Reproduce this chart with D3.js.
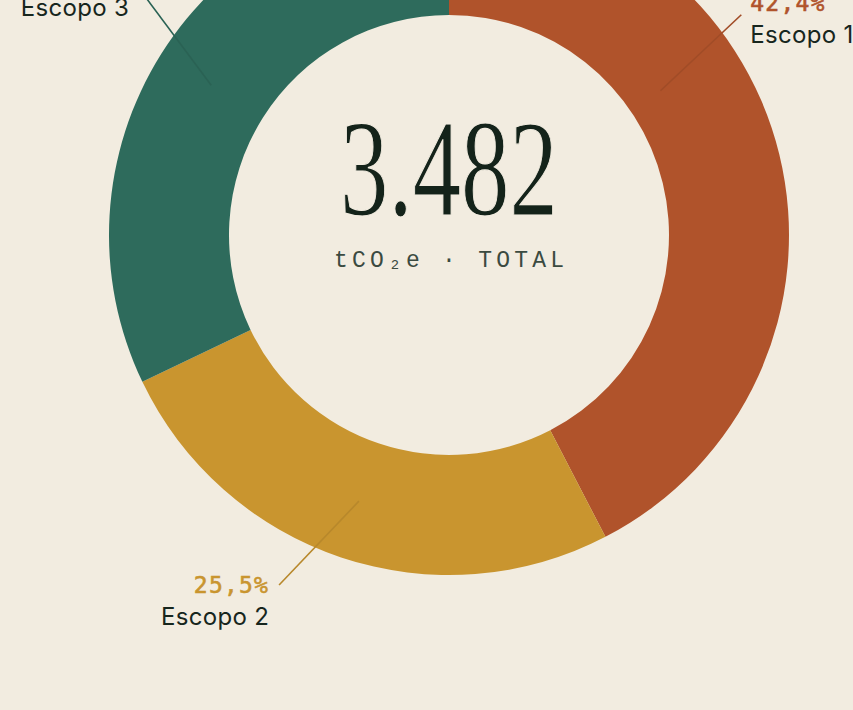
<!DOCTYPE html>
<html>
<head>
<meta charset="utf-8">
<script src="https://cdn.jsdelivr.net/npm/d3@7"></script>
<style>
  html, body { margin: 0; padding: 0; background: #f2ece0; }
  svg { display: block; }
</style>
</head>
<body>
<svg id="chart" width="853" height="710"></svg>
<script>
// dados (tCO2e por escopo)
var scopes = ["Escopo 1", "Escopo 2", "Escopo 3"];
var emissions = [1476, 888, 1118];
var colors = ["#b0532b", "#c9952f", "#2e6b5c"];
var totalLabel = "tCO₂e · TOTAL";

// onde cada linha-guia sai e termina (angulo em graus, raio em px)
var leaders = [
    { a0: 55.7, r0: 256, a1: 53.0, r1: 366, side: "right", top: true },
    { a0: 198.7, r0: 281, a1: 205.9, r1: 389, side: "left", top: false },
    { a0: 302.2, r0: 281, a1: 308.5, r1: 396, side: "left", top: true }
];

var width = 853, height = 710;
var cx = 449, cy = 235;
var inner = 220, outer = 340;

var pt = d3.formatLocale({ decimal: ",", thousands: ".", grouping: [3] });
var fmtTotal = pt.format(",d");
var fmtPct = pt.format(".1%");

var total = d3.sum(emissions);

var svg = d3.select("#chart");
svg.append("rect").attr("width", width).attr("height", height).attr("fill", "#f2ece0");

var g = svg.append("g").attr("transform", "translate(" + cx + "," + cy + ")");

var pie = d3.pie().sort(null).value(function(d) { return d; });
var arcs = pie(emissions);

var arc = d3.arc().innerRadius(inner).outerRadius(outer);

g.selectAll("path.slice")
    .data(arcs)
    .join("path")
    .classed("slice", true)
    .attr("d", arc)
    .attr("fill", function(d, i) { return colors[i]; });

function polar(a, r) {
    var t = a * Math.PI / 180;
    return [Math.sin(t) * r, -Math.cos(t) * r];
}

// linhas-guia
g.selectAll("line.leader")
    .data(leaders)
    .join("line")
    .classed("leader", true)
    .attr("x1", function(d) { return polar(d.a0, d.r0)[0]; })
    .attr("y1", function(d) { return polar(d.a0, d.r0)[1]; })
    .attr("x2", function(d) { return polar(d.a1, d.r1)[0]; })
    .attr("y2", function(d) { return polar(d.a1, d.r1)[1]; })
    .style("stroke", function(d, i) { return d3.color(colors[i]).darker(0.25); })
    .style("stroke-width", "1.6px");

var labels = g.selectAll("g.label")
    .data(leaders)
    .join("g")
    .classed("label", true)
    .attr("transform", function(d) {
        var p = polar(d.a1, d.r1);
        var dx = d.side == "right" ? 9 : -10;
        var dy = d.top ? -4 : 8;
        return "translate(" + (p[0] + dx) + "," + (p[1] + dy) + ")";
    });

labels.append("text")
    .attr("text-anchor", function(d) { return d.side == "right" ? "start" : "end"; })
    .style("font-family", "'DejaVu Sans Mono', monospace")
    .style("font-size", "23px")
    .style("letter-spacing", "1.2px")
    .style("fill", function(d, i) { return colors[i]; })
    .style("stroke", function(d, i) { return colors[i]; })
    .style("stroke-width", "0.6px")
    .text(function(d, i) { return fmtPct(emissions[i] / total); });

labels.append("text")
    .attr("y", 32)
    .attr("text-anchor", function(d) { return d.side == "right" ? "start" : "end"; })
    .style("font-family", "Inter, 'Noto Sans', sans-serif")
    .style("font-size", "24px")
    .style("letter-spacing", "0.3px")
    .style("fill", "#17261d")
    .text(function(d, i) { return scopes[i]; });

// total no centro
g.append("text")
    .attr("text-anchor", "middle")
    .attr("y", -20)
    .attr("textLength", 218)
    .attr("lengthAdjust", "spacingAndGlyphs")
    .style("font-family", "'Liberation Serif', serif")
    .style("font-size", "138px")
    .style("fill", "#14231a")
    .style("stroke", "#f2ece0")
    .style("stroke-width", "1.2px")
    .style("paint-order", "normal")
    .text(fmtTotal(total));

g.append("text")
    .attr("text-anchor", "middle")
    .attr("y", 32)
    .attr("textLength", 230)
    .attr("lengthAdjust", "spacing")
    .style("font-family", "'Liberation Mono', monospace")
    .style("font-size", "23px")
    .style("fill", "#3b4a40")
    .text(totalLabel);
</script>
</body>
</html>
